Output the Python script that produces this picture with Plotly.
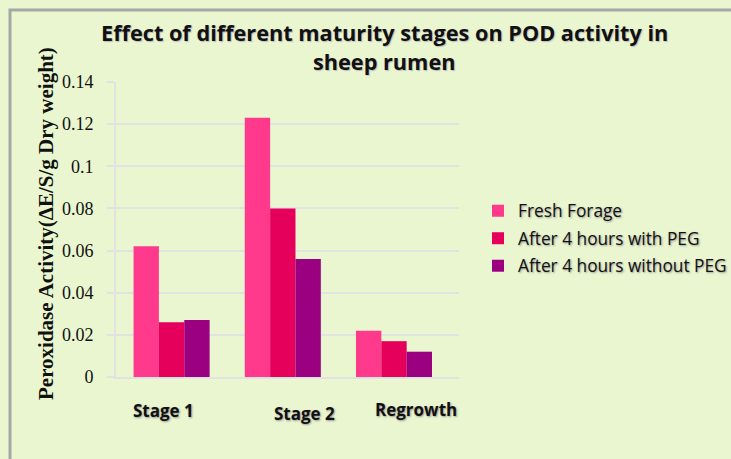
import plotly.graph_objects as go

categories = ["Stage 1", "Stage 2", "Regrowth"]
series_names = ["Fresh Forage", "After 4 hours with PEG", "After 4 hours without PEG"]
fresh = [0.062, 0.123, 0.022]
with_peg = [0.026, 0.080, 0.017]
without_peg = [0.027, 0.056, 0.012]
y_ticks = [0, 0.02, 0.04, 0.06, 0.08, 0.1, 0.12, 0.14]
y_ticklabels = ["0", "0.02", "0.04", "0.06", "0.08", "0.1", "0.12", "0.14"]

colors = ["#FF3A8C", "#E5005B", "#9B0080"]
bg = "#E9F6CF"
shadow = "1px 1px 2px #9a9a9a"

W, H = 731, 459
ml, mr, mt, mb = 116, 272, 82, 82
pw, ph = W - ml - mr, H - mt - mb

def px_x(x):
    return (x - ml) / pw

def px_y(y):
    return (H - mb - y) / ph

fig = go.Figure()
for name, vals, c in zip(series_names, [fresh, with_peg, without_peg], colors):
    fig.add_trace(go.Bar(
        x=categories, y=vals, name=name, legendgroup=name,
        marker=dict(color=c, line=dict(width=0)),
    ))

# category labels offset as in the reference
label_shift = [-8, 22, 22]
label_y = [410, 413, 409]
for cat, dx, ly in zip(categories, label_shift, label_y):
    fig.add_annotation(
        x=cat, xref="x", y=px_y(ly), yref="paper", text="<b>" + cat + "</b>",
        showarrow=False, xshift=dx,
        font=dict(family="Open Sans", size=17, color="#111111", shadow=shadow),
        xanchor="center", yanchor="middle",
    )

# y-axis title
fig.add_annotation(
    x=px_x(46), xref="paper", y=px_y(224), yref="paper",
    text="<b>Peroxidase Activity(ΔE/S/g Dry weight)</b>", textangle=-90,
    showarrow=False, font=dict(family="Liberation Serif", size=21, color="#111111"),
    xanchor="center", yanchor="middle",
)

# title lines
for txt, ty in [("Effect of different maturity stages on POD activity in", 32),
                ("sheep rumen", 62)]:
    fig.add_annotation(
        x=px_x(384), xref="paper", y=px_y(ty), yref="paper",
        text="<b>" + txt + "</b>",
        showarrow=False,
        font=dict(family="Open Sans", size=21.7, color="#111111", shadow="1px 1px 1px #bbbbbb"),
        xanchor="center", yanchor="middle",
    )

# chart frame (gray border top/left)
fig.add_shape(type="rect", xref="paper", yref="paper",
              x0=px_x(10), x1=px_x(780), y0=px_y(10), y1=px_y(500),
              line=dict(color="#A6A6A6", width=3), fillcolor="rgba(0,0,0,0)",
              layer="above")

fig.update_layout(
    width=W, height=H,
    margin=dict(l=ml, r=mr, t=mt, b=mb, autoexpand=False),
    paper_bgcolor=bg, plot_bgcolor=bg,
    barmode="group", bargap=0.316, bargroupgap=0,
    showlegend=True,
    legend=dict(
        x=px_x(478), xanchor="left", y=px_y(193), yanchor="top",
        font=dict(family="Open Sans", size=17.3, color="#111111", shadow=shadow),
        bgcolor="rgba(0,0,0,0)", tracegroupgap=2, traceorder="grouped",
        itemclick=False,
    ),
    xaxis=dict(
        type="category", showticklabels=False, ticks="",
        showline=True, linecolor="#E2E2E2", linewidth=2, showgrid=False,
        fixedrange=True, automargin=False,
    ),
    yaxis=dict(
        range=[0, 0.14], tickvals=y_ticks, ticktext=y_ticklabels,
        ticks="outside", ticklen=7, tickcolor="#E2E2E2", tickwidth=2,
        ticklabelstandoff=10,
        showline=True, linecolor="#E2E2E2", linewidth=2,
        showgrid=True, gridcolor="#E2E2E2", gridwidth=2,
        zeroline=False, automargin=False,
        tickfont=dict(family="Liberation Serif", size=18, color="#111111"),
        fixedrange=True,
    ),
)

fig.write_html("out.html", config={"displayModeBar": False},
               post_script="document.body.style.margin='0';")
